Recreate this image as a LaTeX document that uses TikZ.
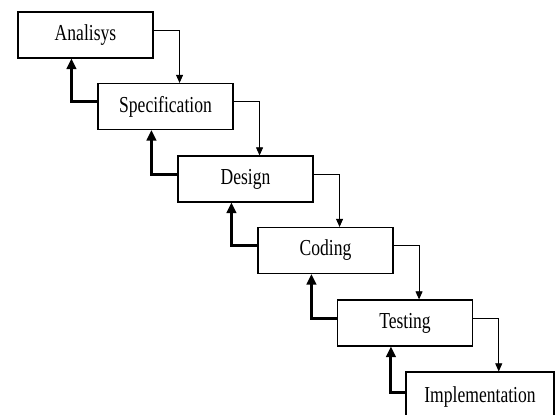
\documentclass[tikz,border=0pt]{standalone}
\usepackage{fontspec}
\setmainfont{Liberation Serif}
\usetikzlibrary{arrows.meta}

\newcommand{\tall}[1]{\scalebox{1}[1.3]{#1}}

\tikzset{
	stage/.style={draw, line width=0.9pt, minimum width=4.05cm, minimum height=1.38cm, inner sep=0pt, font=\fontsize{15}{18}\selectfont},
	forward/.style={line width=0.8pt, -{Triangle[length=7pt,width=6pt]}},
	backward/.style={line width=2.6pt, -{Triangle[length=9pt,width=8pt]}}
}

\begin{document}
\begin{tikzpicture}[x=0.03cm, y=-0.03cm]
	\useasboundingbox (0,0) rectangle (557,414);
	\clip (0,0) rectangle (557,414);
	%% stages
	\node[stage] (analysis) at (85.5,35) {\tall{Analisys}};
	\node[stage] (spec) at (165.5,106.5) {\tall{Specification}};
	\node[stage] (design) at (245.5,179) {\tall{Design}};
	\node[stage] (coding) at (325.5,250.5) {\tall{Coding}};
	\node[stage] (testing) at (405,323) {\tall{Testing}};
	\node[stage, minimum width=4.44cm, minimum height=1.5cm] (impl) at (480,397) {\tall{Implementation}};
	%% thin arrows down
	\draw[forward] ([yshift=4pt]analysis.east) -| ([xshift=12pt]spec.north);
	\draw[forward] ([yshift=4pt]spec.east) -| ([xshift=12pt]design.north);
	\draw[forward] ([yshift=4pt]design.east) -| ([xshift=12pt]coding.north);
	\draw[forward] ([yshift=4pt]coding.east) -| ([xshift=12pt]testing.north);
	\draw[forward] ([yshift=4pt]testing.east) -| ([xshift=16pt]impl.north);
	%% thick arrows back up
	\draw[backward] ([yshift=4pt]spec.west) -| ([xshift=-12pt]analysis.south);
	\draw[backward] ([yshift=4pt]design.west) -| ([xshift=-12pt]spec.south);
	\draw[backward] ([yshift=4pt]coding.west) -| ([xshift=-12pt]design.south);
	\draw[backward] ([yshift=4pt]testing.west) -| ([xshift=-12pt]coding.south);
	\draw[backward] ([yshift=4pt]impl.west) -| ([xshift=-12pt]testing.south);
\end{tikzpicture}
\end{document}
